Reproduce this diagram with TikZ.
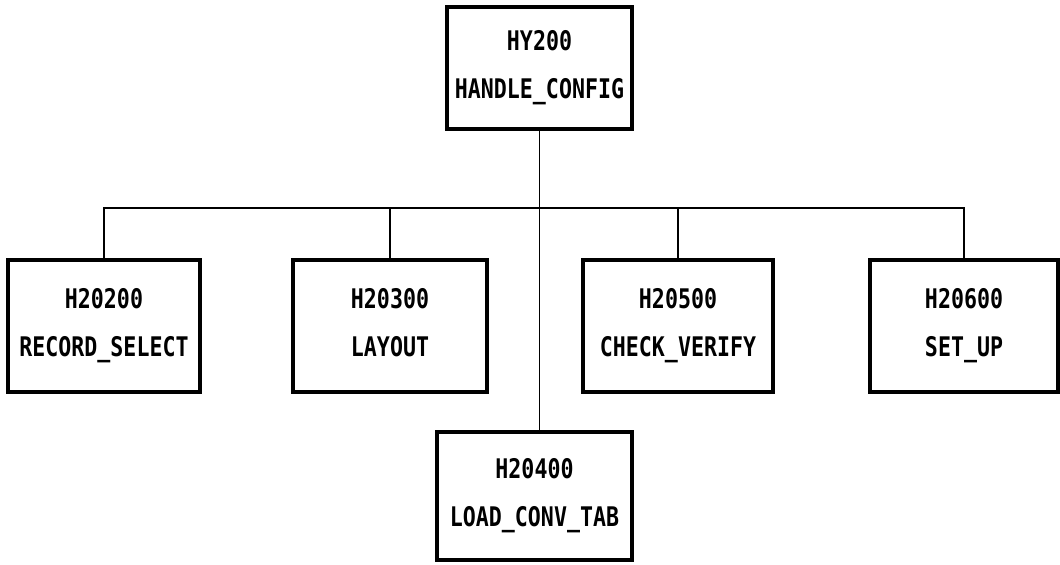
\documentclass[tikz,border=0pt]{standalone}
\usepackage{fontspec}
\newfontfamily\chartfont{DejaVu Sans Mono}[FakeStretch=0.8]
\tikzset{
  modbox/.style={draw,line width=1.6pt,align=center,inner sep=0pt,
    font=\chartfont\bfseries\fontsize{13.5}{24}\selectfont},
  link/.style={line width=0.7pt}
}
\begin{document}
\begin{tikzpicture}[x=0.5pt,y=-0.5pt]
	\useasboundingbox (0,0) rectangle (1060,564);
	\node[modbox,minimum width=92.5pt,minimum height=61pt] (hc) at (539.5,68) {HY200\\HANDLE\_CONFIG};
	\node[modbox,minimum width=96pt,minimum height=66pt] (rs) at (104,326) {H20200\\RECORD\_SELECT};
	\node[modbox,minimum width=97pt,minimum height=66pt] (lay) at (390,326) {H20300\\LAYOUT\vphantom{\_}};
	\node[modbox,minimum width=95pt,minimum height=66pt] (cv) at (678,326) {H20500\\CHECK\_VERIFY};
	\node[modbox,minimum width=94pt,minimum height=66pt] (su) at (964,326) {H20600\\SET\_UP};
	\node[modbox,minimum width=97.5pt,minimum height=64pt] (lct) at (534.5,496) {H20400\\LOAD\_CONV\_TAB};
	\coordinate (bus) at (539,208);
	\draw[link] (rs.north) |- (bus) -| (su.north);
	\draw[link] (lay.north) -- (lay.north |- bus);
	\draw[link] (cv.north) -- (cv.north |- bus);
	\draw[link] (hc.south) -- (hc.south |- lct.north);
\end{tikzpicture}
\end{document}
